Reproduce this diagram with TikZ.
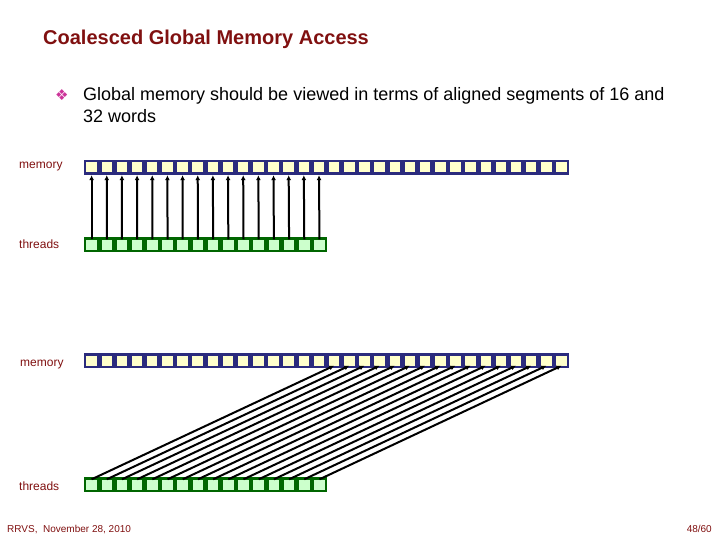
\documentclass[tikz,border=0pt]{standalone}
\usepackage{fontspec}
\setmainfont{Liberation Sans}
\newfontfamily\dingfont{DejaVu Sans}
\usepackage{tikz}
\usetikzlibrary{arrows.meta,positioning}

\definecolor{slidered}{RGB}{128,16,16}
\definecolor{bulletpink}{RGB}{204,51,153}
\definecolor{memblue}{RGB}{43,43,125}
\definecolor{memfill}{RGB}{255,255,204}
\definecolor{thrgreen}{RGB}{0,102,0}
\definecolor{thrfill}{RGB}{204,255,204}

\begin{document}
\begin{tikzpicture}[x=1pt, y=-1pt,
    membar/.style={rectangle, fill=memblue, minimum width=485pt, minimum height=15pt, inner sep=0pt},
    thrbar/.style={rectangle, fill=thrgreen, minimum width=243pt, minimum height=15pt, inner sep=0pt},
    memcell/.style={rectangle, fill=memfill, minimum width=10.5pt, minimum height=10pt, inner sep=0pt},
    thrcell/.style={rectangle, fill=thrfill, minimum width=10.5pt, minimum height=10pt, inner sep=0pt},
    rowlabel/.style={anchor=base west, inner sep=0pt, text=slidered, font=\fontsize{12}{14}\selectfont},
    link/.style={-{Latex[length=5pt,width=5pt]}, line width=2pt}]
  \useasboundingbox (0,0) rectangle (720,540);

  % heading and bullet
  \node[anchor=base west, inner sep=0pt, text=slidered, font=\fontsize{20}{24}\bfseries] (title) at (43,45) {Coalesced Global Memory Access};
  \node[anchor=base west, inner sep=0pt, text=bulletpink, font=\dingfont\fontsize{15}{18}\selectfont] (bullet) at (55,101) {❖};
  \node[anchor=north west, inner sep=0pt, align=left, font=\fontsize{18}{22}\selectfont] (point) at (83,87)
    {Global memory should be viewed in terms of aligned segments of 16 and\\32 words};

  % first case: thread i reads word i
  \node[rowlabel] (memlabA) at (19,169) {memory};
  \node[rowlabel] (thrlabA) at (19,248) {threads};
  \node[membar] (memA) at (326.5,167.5) {};
  \node[thrbar] (thrA) at (205.5,244.5) {};
  \foreach \i in {0,...,31}
    \node[memcell] (mA\i) at ({91.6+15.16*\i},167.5) {};
  \foreach \i in {0,...,15}
    \node[thrcell] (tA\i) at ({91.6+15.19*\i},244.5) {};
  \foreach \i in {0,...,15}
    \draw[link] (tA\i.north) -- (memA.south -| mA\i);

  % second case: thread i reads word 16+i
  \node[rowlabel] (memlabB) at (20,366) {memory};
  \node[rowlabel] (thrlabB) at (19,490) {threads};
  \node[membar] (memB) at (326.5,360.5) {};
  \node[thrbar] (thrB) at (205.5,484.5) {};
  \foreach \i in {0,...,31}
    \node[memcell] (mB\i) at ({91.6+15.16*\i},360.5) {};
  \foreach \i in {0,...,15}
    \node[thrcell] (tB\i) at ({91.6+15.19*\i},484.5) {};
  \foreach \i [evaluate=\i as \j using int(\i+16)] in {0,...,15}
    \draw[link] (tB\i.north) -- (mB\j.south);

  % footer
  \node[anchor=base west, inner sep=0pt, text=slidered, font=\fontsize{10}{12}\selectfont] (date) at (7,532) {RRVS,~ November 28, 2010};
  \node[anchor=base east, inner sep=0pt, text=slidered, font=\fontsize{10}{12}\selectfont] (page) at (712,532) {48/60};
\end{tikzpicture}
\end{document}
